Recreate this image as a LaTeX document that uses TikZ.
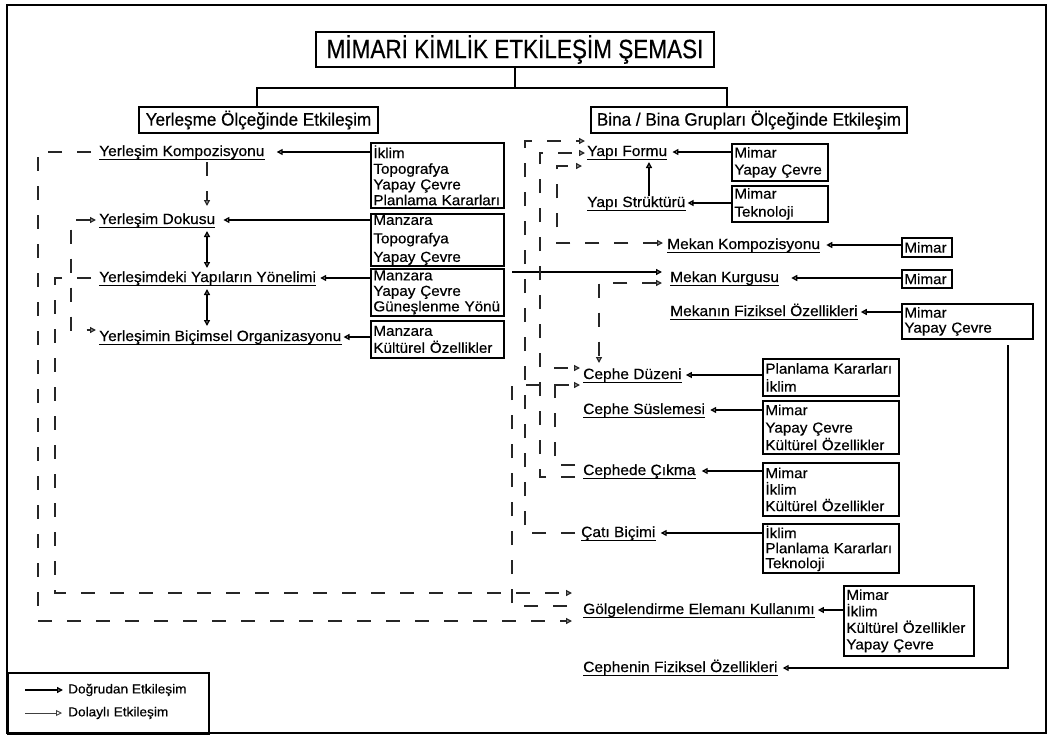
\documentclass[tikz,border=0pt]{standalone}
\usepackage{fontspec}
\setmainfont{Liberation Sans}
\newfontfamily\lbf[FakeStretch=1.05,FakeBold=0.45]{Liberation Sans}
\newfontfamily\hdf[FakeStretch=0.95,FakeBold=0.45]{Liberation Sans}
\newfontfamily\ttlf[FakeStretch=0.85,FakeBold=0.45]{Liberation Sans}
\usetikzlibrary{arrows.meta,calc}
\begin{document}
\begin{tikzpicture}[x=1pt,y=-1pt,
  >={Triangle[open,length=6pt,width=6pt]},
  cn/.style={line width=1.4pt},
  dl/.style={line width=1.3pt, draw=black!85, dash pattern=on 14pt off 15pt},
  bx/.style={draw, line width=1.8pt, anchor=north west, inner xsep=2pt, inner ysep=0pt, align=left},
  ls/.style={font=\lbf\fontsize{14.5}{#1}\selectfont},
  lbl/.style={anchor=west, inner xsep=0pt, inner ysep=1pt, text height=10pt, text depth=2pt,
    font=\lbf\fontsize{14.8}{16}\selectfont,
    append after command={(\tikzlastnode.south west) edge[line width=1.4pt,-] (\tikzlastnode.south east)}},
  hd/.style={draw, line width=1.8pt, inner sep=0pt, font=\hdf\fontsize{18}{20}\selectfont},
  lgt/.style={anchor=west, inner sep=0pt, font=\lbf\fontsize{13}{15}\selectfont}
]
\fill[white] (0,0) rectangle (1054,736);
\useasboundingbox (0,0) rectangle (1054,736);
\draw[line width=1.5pt] (7,5) rectangle (1046,733);

% title and headings
\node[draw, line width=2pt, minimum width=398pt, minimum height=35pt, inner sep=0pt] (tt) at (515,49.5)
  {\ttlf\fontsize{26.5}{28}\selectfont MİMARİ KİMLİK ETKİLEŞİM ŞEMASI};
\node[hd, minimum width=239pt, minimum height=26pt] (hL) at (258.5,120) {Yerleşme Ölçeğinde Etkileşim};
\node[hd, minimum width=316pt, minimum height=26pt] (hR) at (749,120) {Bina / Bina Grupları Ölçeğinde Etkileşim};
\coordinate (jL) at (257,88);
\coordinate (jR) at (727,88);
\draw[cn] (tt.south) -- (tt.south |- jL);
\draw[cn] (jL |- hL.north) -- (jL) -- (jR) -- (jR |- hR.north);

% left labels
\node[lbl] (l1) at (99,152) {Yerleşim Kompozisyonu};
\node[lbl] (l2) at (99,220) {Yerleşim Dokusu};
\node[lbl] (l3) at (99,278) {Yerleşimdeki Yapıların Yönelimi};
\node[lbl] (l4) at (99,337) {Yerleşimin Biçimsel Organizasyonu};

% left boxes
\node[bx, minimum width=133pt, minimum height=65pt, text width=128pt, ls=15.7] (b1) at (370,142) {İklim\\Topografya\\Yapay~Çevre\\Planlama~Kararları};
\node[bx, minimum width=133pt, minimum height=52pt, text width=128pt, ls=18.5] (b2) at (370,213) {Manzara\\Topografya\\Yapay~Çevre};
\node[bx, minimum width=133pt, minimum height=47pt, text width=128pt, ls=15.5] (b3) at (370,268) {Manzara\\Yapay~Çevre\\Güneşlenme~Yönü};
\node[bx, minimum width=133pt, minimum height=37pt, text width=128pt, ls=17] (b4) at (370,320) {Manzara\\Kültürel~Özellikler};

\draw[cn,->] (b1.west |- l1.east) -- ([xshift=12pt]l1.east);
\draw[cn,->] (b2.west |- l2.east) -- ([xshift=8pt]l2.east);
\draw[cn,->] (b3.west |- l3.east) -- ([xshift=4pt]l3.east);
\draw[cn,->] (b4.west |- l4.east) -- ([xshift=2pt]l4.east);

% left internal connectors
\coordinate (v1a) at (207,162); \coordinate (v1b) at (207,206);
\coordinate (v2a) at (207,231); \coordinate (v2b) at (207,268);
\coordinate (v3a) at (207,289); \coordinate (v3b) at (207,326);
\draw[dl,->] (v1a) -- (v1b);
\draw[cn,<->] (v2a) -- (v2b);
\draw[cn,<->] (v3a) -- (v3b);
\coordinate (l4A) at (96,330);
\draw[dl,<->] ([xshift=-3pt]l2.west) -- (71,220) -- (71,330) -- (l4A);

% right labels
\node[lbl] (yf) at (587,152) {Yapı Formu};
\node[lbl] (ys) at (587,203) {Yapı Strüktürü};
\node[lbl] (mk) at (667,245) {Mekan Kompozisyonu};
\node[lbl] (mq) at (670,278) {Mekan Kurgusu};
\node[lbl] (mf) at (670,312) {Mekanın Fiziksel Özellikleri};
\node[lbl] (cd) at (583,375) {Cephe Düzeni};
\node[lbl] (cs) at (583,410) {Cephe Süslemesi};
\node[lbl] (cc) at (583,471) {Cephede Çıkma};
\node[lbl] (cb) at (581,533) {Çatı Biçimi};
\node[lbl] (ge) at (583,610) {Gölgelendirme Elemanı Kullanımı};
\node[lbl] (cf) at (583,668) {Cephenin Fiziksel Özellikleri};

% right boxes
\node[bx, minimum width=96pt, minimum height=37pt, text width=91pt, ls=17] (byf) at (731,143) {Mimar\\Yapay~Çevre};
\node[bx, minimum width=96pt, minimum height=36pt, text width=91pt, ls=18] (bys) at (731,185) {Mimar\\Teknoloji};
\node[bx, minimum width=50pt, minimum height=19pt, text width=45pt, ls=16] (bmk) at (901,237) {Mimar};
\node[bx, minimum width=50pt, minimum height=18pt, text width=45pt, ls=16] (bmq) at (901,269) {Mimar};
\node[bx, minimum width=131pt, minimum height=35pt, text width=126pt, ls=15] (bmf) at (901,303) {Mimar\\Yapay~Çevre};
\node[bx, minimum width=136pt, minimum height=37pt, text width=131pt, ls=18] (bcd) at (762,358) {Planlama~Kararları\\İklim};
\node[bx, minimum width=136pt, minimum height=53pt, text width=131pt, ls=17.5] (bcs) at (762,400) {Mimar\\Yapay~Çevre\\Kültürel~Özellikler};
\node[bx, minimum width=136pt, minimum height=53pt, text width=131pt, ls=16.5] (bcc) at (762,462) {Mimar\\İklim\\Kültürel~Özellikler};
\node[bx, minimum width=136pt, minimum height=49pt, text width=131pt, ls=15] (bcb) at (762,523) {İklim\\Planlama~Kararları\\Teknoloji};
\node[bx, minimum width=130pt, minimum height=70pt, text width=125pt, ls=16.5] (bge) at (843,585) {Mimar\\İklim\\Kültürel~Özellikler\\Yapay~Çevre};

\draw[cn,->] (byf.west |- yf.east) -- ([xshift=5pt]yf.east);
\draw[cn,->] (bys.west |- ys.east) -- ([xshift=2pt]ys.east);
\draw[cn,->] (bmk.west |- mk.east) -- ([xshift=6pt]mk.east);
\draw[cn,->] (bmq.west |- mq.east) -- ([xshift=12pt]mq.east);
\draw[cn,->] (bmf.west |- mf.east) -- ([xshift=3pt]mf.east);
\draw[cn,->] (bcd.west |- cd.east) -- ([xshift=4pt]cd.east);
\draw[cn,->] (bcs.west |- cs.east) -- ([xshift=5pt]cs.east);
\draw[cn,->] (bcc.west |- cc.east) -- ([xshift=6pt]cc.east);
\draw[cn,->] (bcb.west |- cb.east) -- ([xshift=5pt]cb.east);
\draw[cn,->] (bge.west |- ge.east) -- ([xshift=3pt]ge.east);
\coordinate (rv) at (1008,345);
\draw[cn,->] (rv) |- ([xshift=5pt]cf.east);
\draw[cn,->] (ys.north -| 649,0) -- (649,162);

% tips on the right
\coordinate (yfA) at (585,141);
\coordinate (yfB) at (585,153);
\coordinate (yfC) at (582,166);
\coordinate (mkA) at (663,243);
\coordinate (mqA) at (662,272);
\coordinate (mqB) at (662,283);
\coordinate (cdT) at (599,363);
\coordinate (cdA) at (580,368);
\coordinate (cdB) at (580,385);
\coordinate (geA) at (572,593);
\coordinate (geB) at (572,621);
\coordinate (s1) at (512,272);

% solid long connector
\draw[cn,->] (s1) -- (mqA);

% dashed connectors
\draw[dl,->] ([xshift=-8pt]l1.west) -- (38,152) -- (38,621) -- (geB);
\draw[dl,->] ([xshift=-8pt]l3.west) -- (55,278) -- (55,593) -- (geA);
\draw[dl,->] ([xshift=-6pt]cb.west) -| (525,141) -- (yfA);
\draw[dl,->] (575,477) -| (540,153) -- (yfB);
\draw[dl,<->] (mkA) -| (557,166) -- (yfC);
\draw[dl,<->] (mqB) -| (cdT);
\draw[dl,->] (575,465) -| (555,368) -- (cdA);
\draw[dl,->] (567,606) -| (512,385) -- (cdB);

% legend
\node[draw, line width=1.5pt, anchor=north west, minimum width=201pt, minimum height=61pt, inner sep=0pt] (lg) at (7,672) {};
\node[lgt] (ld1) at (68,690) {Doğrudan Etkileşim};
\node[lgt] (ld2) at (68,713) {Dolaylı Etkileşim};
\draw[cn,->] ([xshift=-43pt]ld1.west) -- ([xshift=-5pt]ld1.west);
\draw[line width=0.9pt,draw=black!75,->] ([xshift=-43pt]ld2.west) -- ([xshift=-6pt]ld2.west);
\end{tikzpicture}
\end{document}
